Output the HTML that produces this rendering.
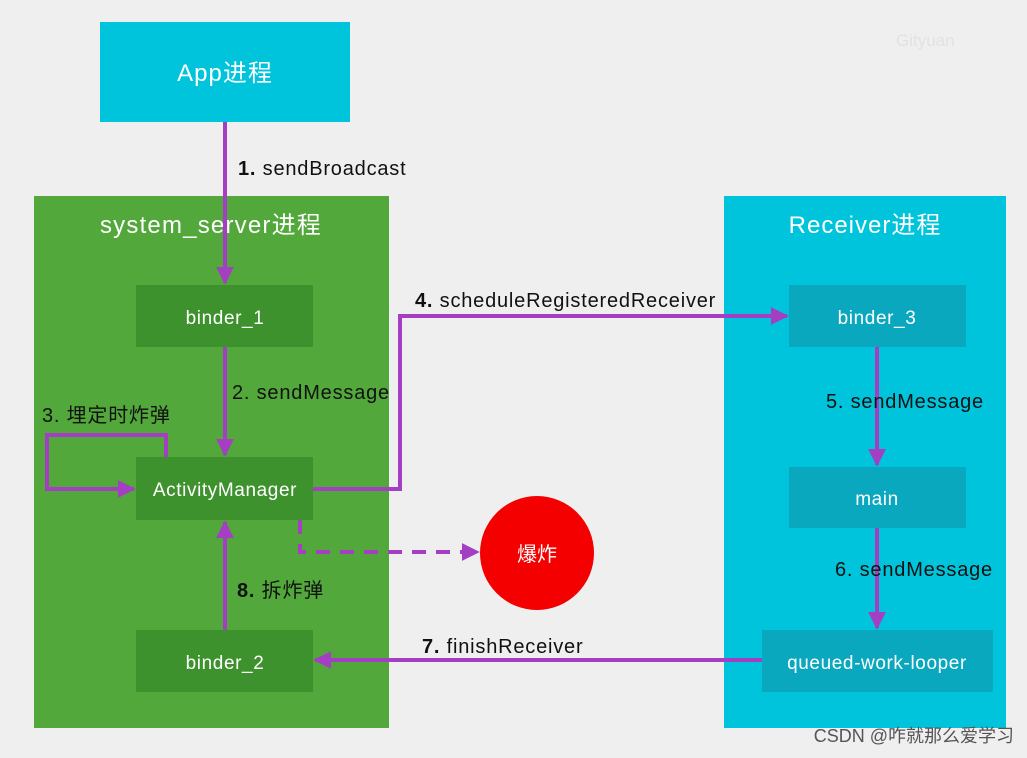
<!DOCTYPE html>
<html><head><meta charset="utf-8"><style>
html,body{margin:0;padding:0;background:#efefef;}
svg text{font-family:"Liberation Sans","Noto Sans CJK SC",sans-serif;}
</style></head><body>
<svg width="1027" height="753" viewBox="0 0 1027 753" xmlns="http://www.w3.org/2000/svg">
<defs>
<marker id="a" viewBox="0 0 10 10" refX="9" refY="5" markerWidth="4.5" markerHeight="4.5" orient="auto" markerUnits="strokeWidth"><path d="M0,0 L10,5 L0,10 z" fill="#a43fc4"/></marker>
</defs>
<rect width="1027" height="753" fill="#efefef"/>
<text x="896" y="46" font-size="17" fill="#e2e2e2">Gityuan</text>
<rect x="100" y="22" width="250" height="100" fill="#00c4dc"/>
<text x="225" y="81" font-size="24" letter-spacing="1" fill="#fff" text-anchor="middle">App进程</text>
<rect x="34" y="196" width="355" height="532" fill="#52a83a"/>
<text x="211" y="233" font-size="24" letter-spacing="1.2" fill="#fff" text-anchor="middle">system_server进程</text>
<rect x="724" y="196" width="282" height="532" fill="#00c4dc"/>
<text x="865" y="233" font-size="24" letter-spacing="1" fill="#fff" text-anchor="middle">Receiver进程</text>
<g fill="#3e922d">
<rect x="136" y="285" width="177" height="62"/>
<rect x="136" y="457" width="177" height="63"/>
<rect x="136" y="630" width="177" height="62"/>
</g>
<g fill="#0aa8be">
<rect x="789" y="285" width="177" height="62"/>
<rect x="789" y="467" width="177" height="61"/>
<rect x="762" y="630" width="231" height="62"/>
</g>
<g font-size="19" letter-spacing="0.6" fill="#fff" text-anchor="middle">
<text x="225" y="324">binder_1</text>
<text x="225" y="496">ActivityManager</text>
<text x="225" y="669">binder_2</text>
<text x="877" y="324">binder_3</text>
<text x="877" y="505">main</text>
<text x="877" y="669">queued-work-looper</text>
</g>
<circle cx="537" cy="553" r="57" fill="#f50000"/>
<text x="537" y="561" font-size="20" fill="#fff" text-anchor="middle">爆炸</text>
<g stroke="#a43fc4" stroke-width="4" fill="none">
<path d="M225,122 V283" marker-end="url(#a)"/>
<path d="M225,347 V455" marker-end="url(#a)"/>
<path d="M166,457 V435 H47 V489 H134" marker-end="url(#a)"/>
<path d="M313,489 H400 V316 H787" marker-end="url(#a)"/>
<path d="M877,347 V465" marker-end="url(#a)"/>
<path d="M877,528 V628" marker-end="url(#a)"/>
<path d="M762,660 H315" marker-end="url(#a)"/>
<path d="M225,630 V522" marker-end="url(#a)"/>
<path d="M300,520 V552 H478" stroke-dasharray="14,10" marker-end="url(#a)"/>
</g>
<g font-size="20" letter-spacing="0.8" fill="#111">
<text x="238" y="175"><tspan font-weight="bold">1.</tspan> sendBroadcast</text>
<text x="232" y="399">2. sendMessage</text>
<text x="42" y="422">3. 埋定时炸弹</text>
<text x="415" y="307"><tspan font-weight="bold">4.</tspan> scheduleRegisteredReceiver</text>
<text x="826" y="408">5. sendMessage</text>
<text x="835" y="576">6. sendMessage</text>
<text x="422" y="653"><tspan font-weight="bold">7.</tspan> finishReceiver</text>
<text x="237" y="597"><tspan font-weight="bold">8.</tspan> 拆炸弹</text>
</g>
<text x="1014" y="742" font-size="18" fill="#555" text-anchor="end">CSDN @咋就那么爱学习</text>
</svg>
</body></html>
